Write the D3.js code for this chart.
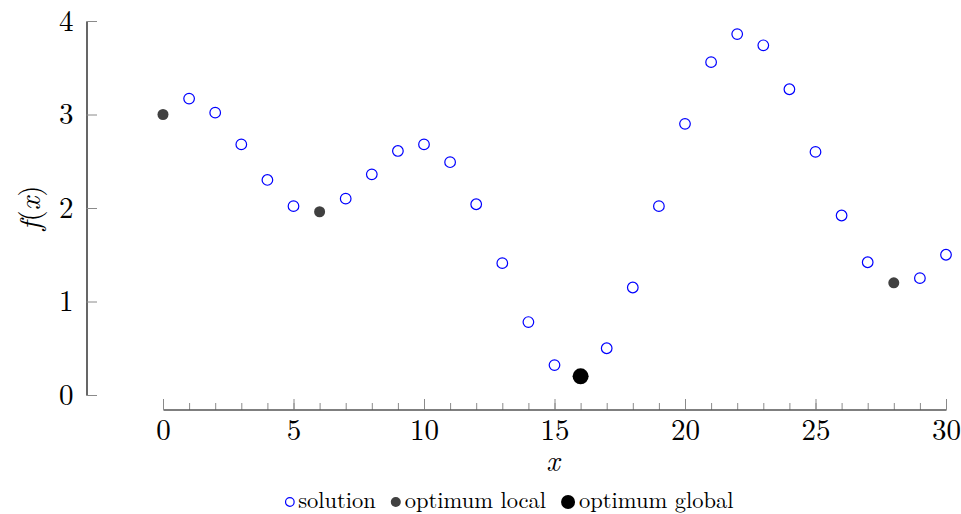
<!DOCTYPE html>
<html>
<head>
<meta charset="utf-8">
<script src="https://cdn.jsdelivr.net/npm/d3@7"></script>
<style>
body { margin: 0; background: #fff; }
svg { display: block; }
</style>
</head>
<body>
<script>
// data
var xs = [0,1,2,3,4,5,6,7,8,9,10,11,12,13,14,15,16,17,18,19,20,21,22,23,24,25,26,27,28,29,30];
var fx = [3.00,3.17,3.02,2.68,2.30,2.02,1.96,2.10,2.36,2.61,2.68,2.49,2.04,1.41,0.78,0.32,0.20,0.50,1.15,2.02,2.90,3.56,3.86,3.74,3.27,2.60,1.92,1.42,1.20,1.25,1.50];
var localX = [0, 6, 28];
var globalX = [16];
var xTicks = [0,5,10,15,20,25,30];
var yTicks = [0,1,2,3,4];
var legendLabels = ["solution", "optimum local", "optimum global"];

var W = 961, H = 514;
var lm = '"Latin Modern Roman"';
var svg = d3.select("body").append("svg")
	.attr("width", W)
	.attr("height", H);

var x = d3.scaleLinear().domain([0,30]).range([163,946]);
var y = d3.scaleLinear().domain([0,4]).range([395,21]);

var axisY = 409.5;
var tickColor = "#8a8a8a";

// minor x ticks
svg.append("g")
	.attr("transform","translate(0," + axisY + ")")
	.call(d3.axisBottom(x).tickValues(xs).tickSizeInner(-6.5).tickSizeOuter(0).tickFormat(""))
	.call(function(g){
		g.select(".domain").remove();
		g.selectAll(".tick line").attr("stroke", tickColor);
	});

// major x ticks + labels
svg.append("g")
	.attr("transform","translate(0," + axisY + ")")
	.call(d3.axisBottom(x).tickValues(xTicks).tickSizeInner(-10.5).tickSizeOuter(0).tickPadding(10).tickFormat(d3.format("d")))
	.call(function(g){
		g.select(".domain").attr("stroke","#000").attr("stroke-width",1.2);
		g.selectAll(".tick line").attr("stroke", tickColor);
		g.selectAll(".tick text").style("font-size", "29px").style("font-family", lm).attr("fill","#000");
	});

// y axis
svg.append("g")
	.attr("transform","translate(86.5,0)")
	.call(d3.axisLeft(y).tickValues(yTicks).tickSizeInner(-10.5).tickSizeOuter(0).tickPadding(13).tickFormat(d3.format("d")))
	.call(function(g){
		g.select(".domain").attr("stroke","#000").attr("stroke-width",1.2);
		g.selectAll(".tick line").attr("stroke", tickColor);
		g.selectAll(".tick text").style("font-size", "29px").style("font-family", lm).attr("fill","#000");
	});

// axis labels
svg.append("text")
	.attr("x", 553)
	.attr("y", 471)
	.attr("text-anchor","middle")
	.style("font-family", lm)
	.style("font-size", "29px")
	.style("font-style","italic")
	.text("x");

var yl = svg.append("text")
	.attr("transform","translate(40,208) rotate(-90)")
	.attr("text-anchor","middle")
	.style("font-family", lm)
	.style("font-size", "29px");
yl.append("tspan").style("font-style","italic").text("f");
yl.append("tspan").text("(");
yl.append("tspan").style("font-style","italic").text("x");
yl.append("tspan").text(")");

// points
var pts = xs.map(function(d,i){ return {x:d, f:fx[i]}; });

svg.selectAll("circle.solution")
	.data(pts.filter(function(d){ return localX.indexOf(d.x) < 0 && globalX.indexOf(d.x) < 0; }))
	.enter().append("circle")
		.attr("class","solution")
		.attr("cx", function(d){ return x(d.x); })
		.attr("cy", function(d){ return y(d.f); })
		.attr("r", 5.3)
		.attr("fill","none")
		.attr("stroke","#0000ff")
		.attr("stroke-width",1.2);

svg.selectAll("circle.local")
	.data(pts.filter(function(d){ return localX.indexOf(d.x) >= 0; }))
	.enter().append("circle")
		.attr("class","local")
		.attr("cx", function(d){ return x(d.x); })
		.attr("cy", function(d){ return y(d.f); })
		.attr("r", 5.5)
		.attr("fill","#404040");

svg.selectAll("circle.global")
	.data(pts.filter(function(d){ return globalX.indexOf(d.x) >= 0; }))
	.enter().append("circle")
		.attr("class","global")
		.attr("cx", function(d){ return x(d.x); })
		.attr("cy", function(d){ return y(d.f); })
		.attr("r", 8)
		.attr("fill","#000");

// legend
var legendMarks = [
	{r:4.3, fill:"none", stroke:"#0000ff"},
	{r:5, fill:"#404040", stroke:"none"},
	{r:7, fill:"#000", stroke:"none"}
];
var lg = svg.append("g");
var cx = 0, baseline = 508;
legendLabels.forEach(function(lab,i){
	var m = legendMarks[i];
	cx += m.r;
	lg.append("circle")
		.attr("cx", cx).attr("cy", baseline - 6)
		.attr("r", m.r)
		.attr("fill", m.fill)
		.attr("stroke", m.stroke)
		.attr("stroke-width", 1.2);
	cx += m.r + 4;
	var t = lg.append("text")
		.attr("x", cx).attr("y", baseline)
		.style("font-family", lm)
		.style("font-size", "22.5px")
		.attr("fill", "#000")
		.text(lab);
	cx += t.node().getComputedTextLength() + 15;
});
cx -= 15;
lg.attr("transform","translate(" + (509.5 - cx/2) + ",0)");
</script>
</body>
</html>
